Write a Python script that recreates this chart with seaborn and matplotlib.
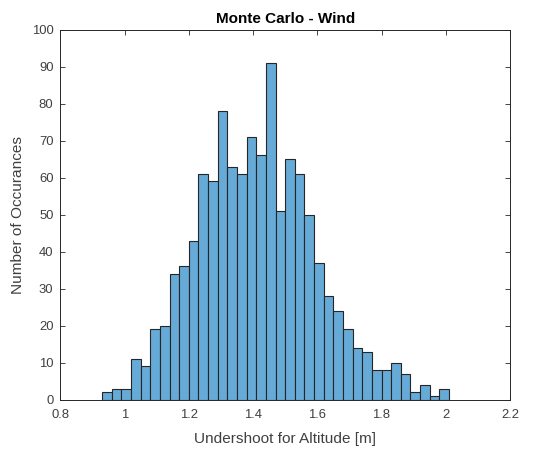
"""
Monte Carlo - Wind: histogram of altitude undershoot.
Bin counts read off the reference figure (36 bins, width 0.03 m).
"""

import numpy as np
import pandas as pd
import matplotlib
matplotlib.use("Agg")
import matplotlib.pyplot as plt
import seaborn as sns

# Data
BIN_START = 0.93
BIN_WIDTH = 0.03
bin_counts = [2, 3, 3, 11, 9, 19, 20, 34, 36, 43,
              61, 59, 78, 63, 61, 71, 66, 91, 51, 65,
              61, 50, 37, 28, 24, 19, 14, 13, 8, 8,
              10, 7, 2, 4, 1, 3]
x_ticks = [0.8, 1.0, 1.2, 1.4, 1.6, 1.8, 2.0, 2.2]
x_tick_labels = ["0.8", "1", "1.2", "1.4", "1.6", "1.8", "2", "2.2"]
y_ticks = list(range(0, 101, 10))

FACE = "#66AAD7"
EDGE = "#262626"
AXIS = "#262626"
TEXT = "#404040"


def main() -> None:
    sns.set_theme(style="white")
    plt.rcParams["font.family"] = ["Liberation Sans", "DejaVu Sans"]

    edges = np.round(BIN_START + BIN_WIDTH * np.arange(len(bin_counts) + 1), 4)
    centers = (edges[:-1] + edges[1:]) / 2
    df = pd.DataFrame({"undershoot": centers, "count": bin_counts})

    fig = plt.figure(figsize=(5.44, 4.5), dpi=100)
    ax = fig.add_axes([0.111, 0.112, 0.8265, 0.822])

    sns.histplot(data=df, x="undershoot", weights="count", bins=edges.tolist(),
                 color=FACE, alpha=1.0, edgecolor=EDGE, linewidth=0.8, ax=ax)

    ax.set_xlim(0.8, 2.2)
    ax.set_ylim(0, 100)
    ax.set_xticks(x_ticks)
    ax.set_xticklabels(x_tick_labels)
    ax.set_yticks(y_ticks)

    ax.tick_params(direction="in", length=3.5, width=0.6, color=AXIS,
                   labelsize=9.4, labelcolor=TEXT, top=True, right=True,
                   bottom=True, left=True, pad=5)
    ax.tick_params(axis="x", pad=7)
    for spine in ax.spines.values():
        spine.set_visible(True)
        spine.set_color(AXIS)
        spine.set_linewidth(0.7)

    ax.set_xlabel("Undershoot for Altitude [m]", fontsize=11.1, color=TEXT, labelpad=8)
    ax.set_ylabel("Number of Occurances", fontsize=11.1, color=TEXT, labelpad=5)
    ax.set_title("Monte Carlo - Wind", fontsize=11, fontweight="bold", color="black", pad=5)

    fig.savefig("out.png", dpi=100)


if __name__ == "__main__":
    main()
